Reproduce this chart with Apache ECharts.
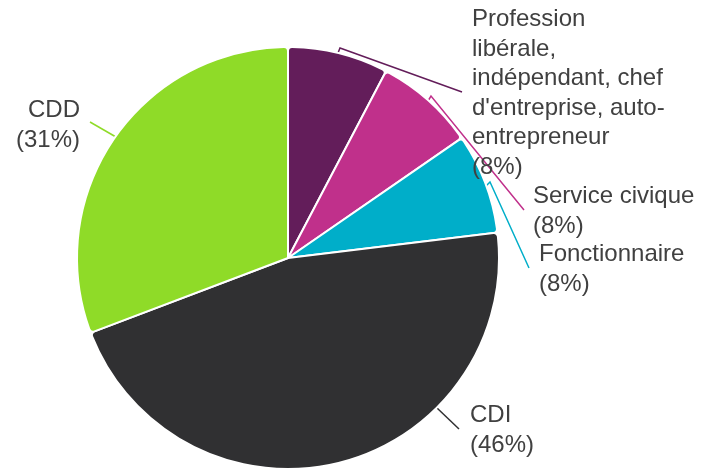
<!DOCTYPE html>
<html>
<head>
<meta charset="utf-8">
<script src="https://cdn.jsdelivr.net/npm/echarts@6/dist/echarts.min.js"></script>
<style>
  html, body { margin: 0; padding: 0; background: #fff; }
  #chart { width: 701px; height: 471px; }
</style>
</head>
<body>
<div id="chart"></div>
<script>
// données (effectifs sur 13)
const categories = [
  'Profession\nlibérale,\nindépendant, chef\nd\'entreprise, auto-\nentrepreneur',
  'Service civique',
  'Fonctionnaire',
  'CDI',
  'CDD'
];
const values = [1, 1, 1, 6, 4];
const colors = ['#631d5a', '#c0308b', '#00aec9', '#303032', '#8fdb28'];

// position des étiquettes (x, y, alignement) + tracé des traits de rappel
const labelPos = [
  { x: 472, y: 5, align: 'left', line: [[338, 53], [340, 48], [462, 92]] },
  { x: 533, y: 182, align: 'left', line: [[428, 101], [431, 96], [524, 210]] },
  { x: 539, y: 240, align: 'left', line: [[486, 186], [490, 182], [529, 268]] },
  { x: 470, y: 401, align: 'left', line: [[437, 408], [459, 429]] },
  { x: 80, y: 96, align: 'right', line: [[116, 137], [90, 122]] }
];

const chart = echarts.init(document.getElementById('chart'));
const option = {
  animation: false,
  series: [{
    type: 'pie',
    center: [288, 258],
    radius: 211,
    startAngle: 90,
    clockwise: true,
    data: categories.map((name, i) => ({
      name: name,
      value: values[i],
      itemStyle: { color: colors[i] },
      labelLine: { lineStyle: { color: colors[i], width: 1.5 } }
    })),
    itemStyle: {
      borderColor: '#fff',
      borderWidth: 2,
      borderRadius: 4
    },
    label: {
      show: true,
      color: '#404040',
      fontFamily: 'Liberation Sans, Arial, sans-serif',
      fontSize: 24,
      lineHeight: 29.5,
      formatter: (p) => p.name + '\n(' + Math.round(p.percent) + '%)'
    },
    labelLine: {
      show: true,
      length: 4,
      length2: 4
    },
    labelLayout: (params) => {
      const pos = labelPos[params.dataIndex];
      return {
        x: pos.x,
        y: pos.y,
        align: pos.align,
        verticalAlign: 'top',
        labelLinePoints: pos.line
      };
    }
  }]
};
chart.setOption(option);
</script>
</body>
</html>
